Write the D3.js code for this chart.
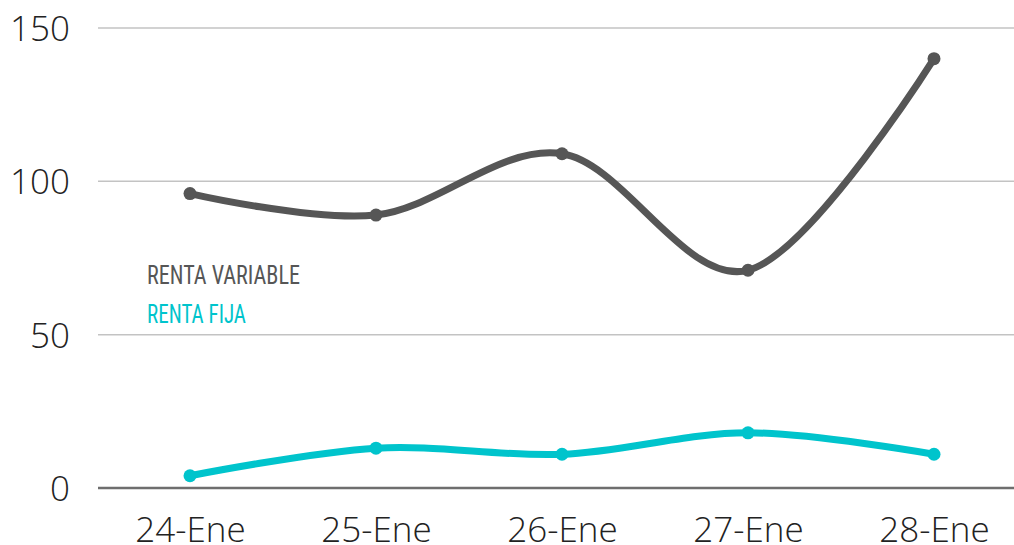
<!DOCTYPE html>
<html><head><meta charset="utf-8">
<script src="https://cdn.jsdelivr.net/npm/d3@7/dist/d3.min.js"></script>
<style>html,body{margin:0;padding:0;background:#fff;overflow:hidden}</style>
</head><body>
<svg id="c" width="1014" height="545"></svg>
<script>
const categories = ["24-Ene","25-Ene","26-Ene","27-Ene","28-Ene"];
const rentaVariable = [96, 89, 109, 71, 140];
const rentaFija = [4, 13, 11, 18, 11];
const yTicks = [0, 50, 100, 150];
const seriesNames = ["RENTA VARIABLE", "RENTA FIJA"];

const svg = d3.select("#c");
const x = d3.scalePoint().domain(categories).range([97, 1027]).padding(0.5);
const y = d3.scaleLinear().domain([0, 150]).range([488, 28]);

// gridlines
svg.append("g").selectAll("line").data(yTicks).join("line")
  .attr("x1", 98).attr("x2", 1014)
  .attr("y1", d => y(d)).attr("y2", d => y(d))
  .attr("stroke", d => d === 0 ? "#6e6e6e" : "#c3c3c3")
  .attr("stroke-width", d => d === 0 ? 2.5 : 1.5);

// y axis labels
const yAxis = d3.axisLeft(y).tickValues(yTicks).tickSize(0).tickPadding(0);
const gy = svg.append("g").attr("transform", "translate(70,0)").call(yAxis);
gy.select(".domain").remove();
gy.selectAll("text").attr("font-family", "'Open Sans', sans-serif").attr("font-weight", 300)
  .attr("font-size", 35).attr("fill", "#222").attr("dy", "0.36em");

// x axis labels
const xAxis = d3.axisBottom(x).tickSize(0).tickPadding(0);
const gx = svg.append("g").attr("transform", "translate(0,517)").call(xAxis);
gx.select(".domain").remove();
gx.selectAll("text").attr("font-family", "'Open Sans', sans-serif").attr("font-weight", 300)
  .attr("font-size", 35).attr("fill", "#222").attr("dy", "0.72em");

const line = d3.line().x((d, i) => x(categories[i])).y(d => y(d)).curve(d3.curveCatmullRom.alpha(0));

const series = [
  {vals: rentaVariable, color: "#565656"},
  {vals: rentaFija, color: "#00c4cc"}
];
series.forEach(s => {
  svg.append("path").datum(s.vals).attr("d", line).attr("fill", "none")
    .attr("stroke", s.color).attr("stroke-width", 7).attr("stroke-linecap", "round");
  svg.append("g").selectAll("circle").data(s.vals).join("circle")
    .attr("cx", (d, i) => x(categories[i])).attr("cy", d => y(d)).attr("r", 6.5)
    .attr("fill", s.color);
});

// legend
const legendY = [284, 323];
const legendW = [153, 99];
seriesNames.forEach((n, i) => {
  svg.append("text").attr("x", 147).attr("y", legendY[i]).text(n)
    .attr("font-family", "'Liberation Sans Narrow', 'Roboto Condensed', sans-serif")
    .attr("font-stretch", "condensed")
    .attr("font-size", 25).attr("fill", series[i].color)
    .attr("textLength", legendW[i]).attr("lengthAdjust", "spacingAndGlyphs");
});
</script>
</body></html>
